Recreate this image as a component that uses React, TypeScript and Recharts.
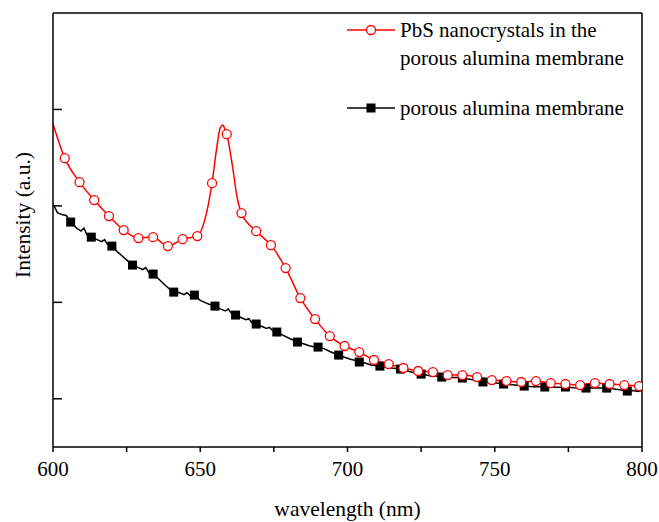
import { LineChart, Line, XAxis, YAxis, ReferenceLine } from 'recharts';

// PbS nanocrystals in the porous alumina membrane (red, open circles)
const redWl = [600, 604, 609, 614, 619, 624, 629, 634, 639, 644, 649, 651.5, 654, 655.5, 656.8, 657.7, 658.3, 659, 661, 662.5, 664, 669, 674, 679, 684, 689, 694, 699, 704, 709, 714, 719, 724, 729, 734, 739, 744, 749, 754, 759, 764, 769, 774, 779, 784, 789, 794, 799, 800];
const redVal = [3.35, 2.995, 2.746, 2.56, 2.394, 2.249, 2.166, 2.176, 2.083, 2.155, 2.187, 2.35, 2.736, 3.08, 3.31, 3.34, 3.3, 3.244, 2.9, 2.59, 2.425, 2.238, 2.093, 1.855, 1.544, 1.326, 1.15, 1.047, 0.984, 0.902, 0.86, 0.819, 0.788, 0.777, 0.746, 0.746, 0.725, 0.694, 0.684, 0.674, 0.684, 0.663, 0.653, 0.642, 0.663, 0.653, 0.642, 0.632, 0.63];
const redMarkers = [604, 609, 614, 619, 624, 629, 634, 639, 644, 649, 654, 659, 664, 669, 674, 679, 684, 689, 694, 699, 704, 709, 714, 719, 724, 729, 734, 739, 744, 749, 754, 759, 764, 769, 774, 779, 784, 789, 794, 799];

// porous alumina membrane (black, filled squares)
const blackWl = [600, 601.5, 603, 604.5, 606, 608, 609.5, 610.5, 611.5, 613, 615, 616.5, 617.5, 618.5, 620, 622, 623.5, 625, 627, 629, 630.5, 631.5, 632.5, 634, 636, 638, 639.5, 641, 643, 644.5, 645.5, 646.5, 648, 650, 651.5, 653, 655, 657, 658.5, 659.5, 660.5, 662, 664, 665.5, 666.5, 667.5, 669, 671, 672.5, 673.5, 674.5, 676, 678, 680, 681.5, 683, 685, 687, 688.5, 690, 692, 694, 697, 699, 701, 702.5, 704, 706, 708, 711, 713, 715, 718, 720, 722, 725, 728, 730, 732, 735, 737, 739, 742, 744, 746, 749, 751, 753, 756, 758, 760, 763, 765, 767, 770, 772, 774, 777, 779, 781, 784, 786, 788, 791, 793, 795, 797, 798.5, 800];
const blackVal = [2.52, 2.43, 2.41, 2.4, 2.332, 2.27, 2.24, 2.27, 2.2, 2.176, 2.15, 2.13, 2.15, 2.1, 2.083, 2.02, 1.98, 1.94, 1.886, 1.86, 1.84, 1.86, 1.81, 1.793, 1.74, 1.68, 1.64, 1.606, 1.6, 1.58, 1.6, 1.57, 1.575, 1.52, 1.5, 1.48, 1.461, 1.43, 1.41, 1.43, 1.39, 1.368, 1.34, 1.32, 1.33, 1.29, 1.275, 1.25, 1.23, 1.24, 1.21, 1.192, 1.16, 1.13, 1.11, 1.088, 1.07, 1.05, 1.04, 1.036, 1.02, 0.99, 0.953, 0.93, 0.91, 0.9, 0.881, 0.87, 0.85, 0.839, 0.83, 0.82, 0.808, 0.79, 0.775, 0.756, 0.74, 0.735, 0.725, 0.72, 0.72, 0.715, 0.7, 0.69, 0.674, 0.665, 0.66, 0.653, 0.645, 0.64, 0.632, 0.625, 0.625, 0.622, 0.62, 0.62, 0.622, 0.615, 0.612, 0.611, 0.615, 0.612, 0.611, 0.6, 0.59, 0.58, 0.585, 0.575, 0.585];
const blackMarkers = [606, 613, 620, 627, 634, 641, 648, 655, 662, 669, 676, 683, 690, 697, 704, 711, 718, 725, 732, 739, 746, 753, 760, 767, 774, 781, 788, 795];

const xTicks = [600, 625, 650, 675, 700, 725, 750, 775, 800];
const yTicks = [0.5, 1.5, 2.5, 3.5];

const redData = redWl.map((wl, i) => ({ wl, v: redVal[i] }));
const blackData = blackWl.map((wl, i) => ({ wl, v: blackVal[i] }));

const FONT = '"Liberation Serif", "Times New Roman", serif';
const RED = '#ff0000';

const CircleDot = (props: any) => {
  const { cx, cy, payload, index } = props;
  if (!redMarkers.includes(payload.wl)) return <g key={`r${index}`} />;
  return <circle key={`r${index}`} cx={cx} cy={cy} r={4.5} fill="#fff" stroke={RED} strokeWidth={1.3} />;
};

const SquareDot = (props: any) => {
  const { cx, cy, payload, index } = props;
  if (!blackMarkers.includes(payload.wl)) return <g key={`b${index}`} />;
  return <rect key={`b${index}`} x={cx - 4.5} y={cy - 4.5} width={9} height={9} fill="#000" />;
};

export default function App() {
  return (
    <div style={{ position: 'absolute', left: 0, top: 0, width: 659, height: 522, background: '#fff', fontFamily: FONT }}>
      <LineChart width={659} height={522} margin={{ top: 13, right: 17, bottom: 0, left: 53 }}>
        <XAxis
          type="number"
          dataKey="wl"
          domain={[600, 800]}
          ticks={xTicks}
          allowDataOverflow
          height={75}
          tickSize={5}
          tickMargin={9}
          axisLine={{ stroke: '#000', strokeWidth: 1.5 }}
          tickLine={{ stroke: '#000', strokeWidth: 1.5 }}
          tick={{ fill: '#000', fontSize: 21, fontFamily: FONT }}
          tickFormatter={(v: number) => (v % 50 === 0 ? String(v) : '')}
          label={{ value: 'wavelength (nm)', position: 'insideBottom', offset: 6, fill: '#000', fontSize: 21.5, fontFamily: FONT }}
        />
        <YAxis
          type="number"
          domain={[0, 4.5]}
          ticks={yTicks}
          mirror
          tickSize={9}
          axisLine={{ stroke: '#000', strokeWidth: 1.5 }}
          tickLine={{ stroke: '#000', strokeWidth: 1.5 }}
          tickFormatter={() => ''}
        />
        <ReferenceLine y={4.5} stroke="#000" strokeWidth={1.5} ifOverflow="visible" />
        <ReferenceLine x={800} stroke="#000" strokeWidth={1.5} ifOverflow="visible" />
        <Line
          data={blackData}
          dataKey="v"
          type="linear"
          stroke="#000"
          strokeWidth={1.5}
          dot={SquareDot}
          activeDot={false}
          isAnimationActive={false}
        />
        <Line
          data={redData}
          dataKey="v"
          type="monotone"
          stroke={RED}
          strokeWidth={1.5}
          dot={CircleDot}
          activeDot={false}
          isAnimationActive={false}
        />
      </LineChart>
      <svg width={40} height={300} style={{ position: 'absolute', left: 0, top: 60 }}>
        <text x={30} y={155} transform="rotate(-90 30 155)" textAnchor="middle" fontSize={21.5} fontFamily={FONT} fill="#000">
          Intensity (a.u.)
        </text>
      </svg>
      <svg width={300} height={130} style={{ position: 'absolute', left: 340, top: 10 }}>
        <line x1={7} y1={20} x2={55} y2={20} stroke={RED} strokeWidth={1.5} />
        <circle cx={31} cy={20} r={4.5} fill="#fff" stroke={RED} strokeWidth={1.3} />
        <text x={60} y={27} fontSize={21} fontFamily={FONT} fill="#000">PbS nanocrystals in the</text>
        <text x={60} y={55} fontSize={21} fontFamily={FONT} fill="#000">porous alumina membrane</text>
        <line x1={7} y1={98} x2={55} y2={98} stroke="#000" strokeWidth={1.5} />
        <rect x={26.5} y={93.5} width={9} height={9} fill="#000" />
        <text x={60} y={105} fontSize={21} fontFamily={FONT} fill="#000">porous alumina membrane</text>
      </svg>
    </div>
  );
}
